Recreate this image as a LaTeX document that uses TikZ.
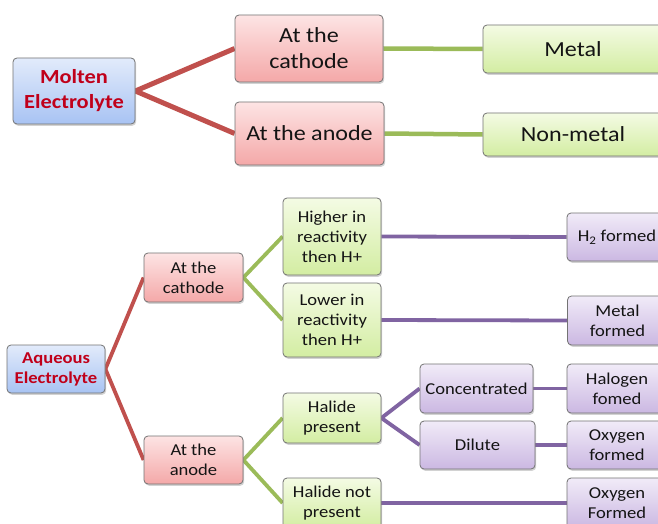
\documentclass[tikz,border=0pt]{standalone}
\usepackage{fontspec}
\setmainfont[FakeStretch=1.12]{Carlito}
\usetikzlibrary{shadows,backgrounds}
\definecolor{redline}{HTML}{C0504D}
\definecolor{greenline}{HTML}{9BBB59}
\definecolor{purpleline}{HTML}{8064A2}
\definecolor{titlered}{HTML}{C0001A}
\definecolor{blueT}{HTML}{E2EBFB}
\definecolor{blueB}{HTML}{A8C3F3}
\definecolor{redT}{HTML}{FDE4E4}
\definecolor{redB}{HTML}{F4A8A8}
\definecolor{greenT}{HTML}{F4FBE4}
\definecolor{greenB}{HTML}{D3EDA2}
\definecolor{purpleT}{HTML}{F1EBF8}
\definecolor{purpleB}{HTML}{CBB8E2}
\tikzset{
  box/.style={draw=black!55, line width=0.8pt, rounded corners=4pt, inner sep=0pt,
    align=center, text=black!92, drop shadow={shadow xshift=1.2pt, shadow yshift=-1.8pt, opacity=0.35}},
  bluebox/.style={box, top color=blueT, bottom color=blueB},
  redbox/.style={box, top color=redT, bottom color=redB},
  greenbox/.style={box, top color=greenT, bottom color=greenB},
  purplebox/.style={box, top color=purpleT, bottom color=purpleB},
  bigtxt/.style={font=\fontsize{21.5}{26}\selectfont},
  smalltxt/.style={font=\fontsize{16.6}{20}\selectfont},
  redconn/.style={draw=redline, line width=#1},
  greenconn/.style={draw=greenline, line width=#1},
  purpleconn/.style={draw=purpleline, line width=#1},
}
\begin{document}
\begin{tikzpicture}[x=1pt,y=-1pt]
\path[use as bounding box] (0,0) rectangle (658,524);
\clip (0,0) rectangle (658,524);
% top section
\node[bluebox, minimum width=122pt, minimum height=66pt, text=titlered,
  font=\fontsize{20}{25}\selectfont\bfseries] (mol) at (74,91) {Molten\\Electrolyte};
\node[redbox, bigtxt, minimum width=148pt, minimum height=67pt] (c1) at (309,48.5) {At the\\cathode};
\node[redbox, bigtxt, minimum width=149pt, minimum height=63pt] (a1) at (309.5,133.5) {At the anode};
\node[greenbox, bigtxt, minimum width=180pt, minimum height=48pt] (metal) at (573,49) {Metal};
\node[greenbox, bigtxt, minimum width=180pt, minimum height=43pt] (nonmetal) at (573,134.5) {Non-metal};
% bottom section
\node[bluebox, minimum width=98pt, minimum height=48pt, text=titlered,
  font=\fontsize{16.6}{20}\selectfont\bfseries] (aq) at (56,369) {Aqueous\\Electrolyte};
\node[redbox, smalltxt, minimum width=99pt, minimum height=49pt] (c2) at (193.5,277.5) {At the\\cathode};
\node[redbox, smalltxt, minimum width=99pt, minimum height=48pt] (a2) at (193.5,460) {At the\\anode};
\node[greenbox, smalltxt, minimum width=98pt, minimum height=77pt] (hi) at (332,236.5) {Higher in\\reactivity\\then H+};
\node[greenbox, smalltxt, minimum width=98pt, minimum height=74pt] (lo) at (332,320) {Lower in\\reactivity\\then H+};
\node[greenbox, smalltxt, minimum width=98pt, minimum height=50pt] (hp) at (332,418) {Halide\\present};
\node[greenbox, smalltxt, minimum width=98pt, minimum height=50pt] (hnp) at (332,503) {Halide not\\present};
\node[purplebox, smalltxt, minimum width=100pt, minimum height=48pt] (h2) at (617,237) {H\textsubscript{2} formed};
\node[purplebox, smalltxt, minimum width=100pt, minimum height=49pt] (mf) at (617.5,320.5) {Metal\\formed};
\node[purplebox, smalltxt, minimum width=113pt, minimum height=49pt] (conc) at (476.5,388.5) {Concentrated};
\node[purplebox, smalltxt, minimum width=115pt, minimum height=48pt] (dil) at (477.5,445) {Dilute};
\node[purplebox, smalltxt, minimum width=100pt, minimum height=49pt] (hal) at (617,388.5) {Halogen\\fomed};
\node[purplebox, smalltxt, minimum width=100pt, minimum height=48pt] (ox1) at (617,445) {Oxygen\\formed};
\node[purplebox, smalltxt, minimum width=100pt, minimum height=50pt] (ox2) at (617,503) {Oxygen\\Formed};
\begin{pgfonlayer}{background}
\fill[white] (0,0) rectangle (658,524);
\draw[redconn=5pt] (c1.west) -- (mol.east) -- (a1.west);
\draw[greenconn=4.5pt] (c1.east) -- (metal.west);
\draw[greenconn=4.5pt] (a1.east) -- (nonmetal.west);
\draw[redconn=3.8pt] (c2.west) -- (aq.east) -- (a2.west);
\draw[greenconn=3.8pt] (hi.west) -- (c2.east) -- (lo.west);
\draw[greenconn=3.8pt] (hp.west) -- (a2.east) -- (hnp.west);
\draw[purpleconn=3.8pt] (hi.east) -- (h2.west);
\draw[purpleconn=3.8pt] (lo.east) -- (mf.west);
\draw[purpleconn=3.8pt] (conc.west) -- (hp.east) -- (dil.west);
\draw[purpleconn=3.8pt] (conc.east) -- (hal.west);
\draw[purpleconn=3.8pt] (dil.east) -- (ox1.west);
\draw[purpleconn=3.8pt] (hnp.east) -- (ox2.west);
\end{pgfonlayer}
\end{tikzpicture}
\end{document}
